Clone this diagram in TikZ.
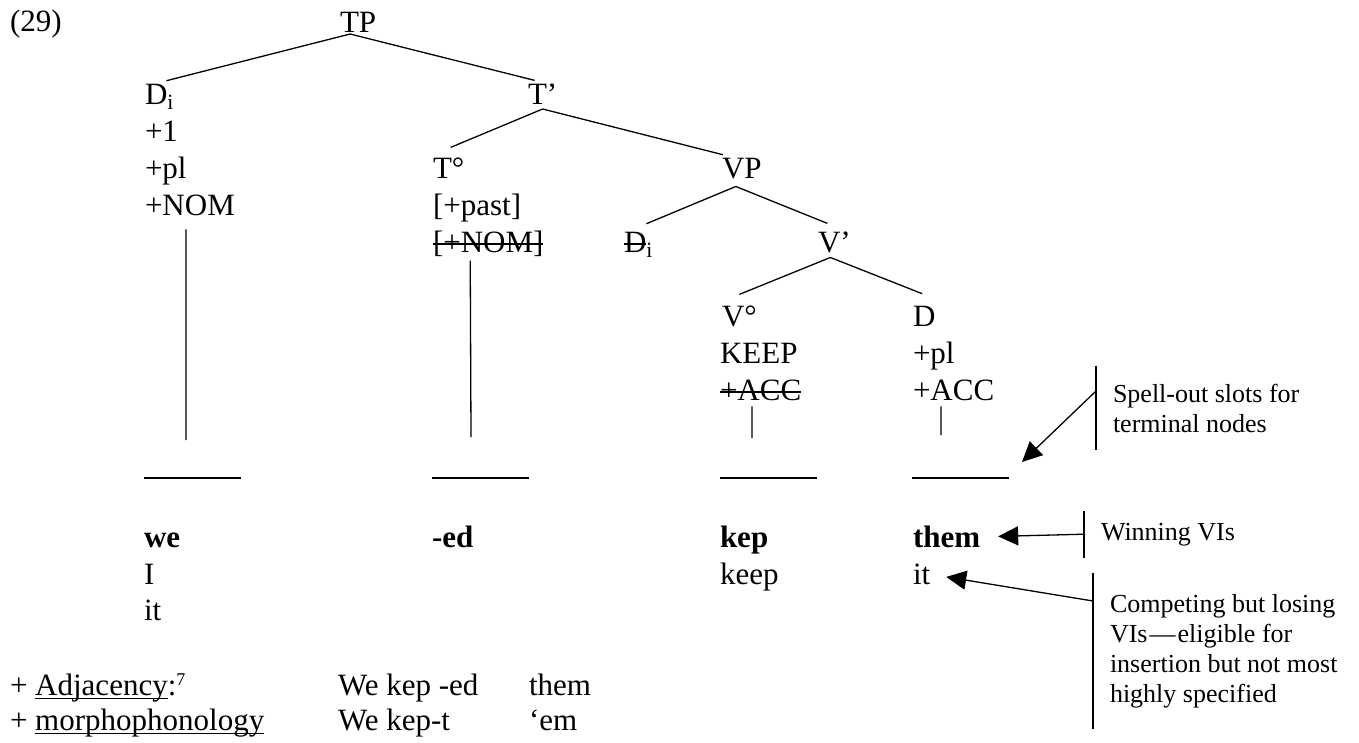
\documentclass[tikz,border=0pt]{standalone}
\usepackage{fontspec}
\setmainfont{Liberation Serif}
\usetikzlibrary{arrows.meta}
\newsavebox{\markbox}
\newcommand{\strk}[1]{\sbox{\markbox}{#1}\rlap{\usebox{\markbox}}\rule[7.5pt]{\wd\markbox}{1.3pt}}
\newcommand{\uln}[1]{\sbox{\markbox}{#1}\rlap{\usebox{\markbox}}\rule[-4pt]{\wd\markbox}{1.3pt}}
\begin{document}
\begin{tikzpicture}[x=1pt,y=-1pt,
    every node/.style={inner sep=0pt,outer sep=0pt,anchor=base west,font=\fontsize{31}{37}\selectfont},
    branch/.style={line width=1.3pt},
    slot/.style={line width=2.2pt},
    note/.style={font=\fontsize{26}{30}\selectfont,align=left,anchor=west,inner xsep=17pt,inner ysep=#1},
    pointer/.style={line width=1.3pt,-{Triangle[length=20pt,width=19pt]}}]
    \useasboundingbox (0,0) rectangle (1359,742);

    \node (ex) at (10,31) {(29)};
    \node (TP) at (340,32) {TP};
    \node (Di) at (145,104) {D\textsubscript{i}};
    \node (d1) at (145,141) {+1};
    \node (d2) at (145,178) {+pl};
    \node (dnom) at (145,215) {+NOM};
    \node (Tb) at (528,104) {T’};
    \node (To) at (433,178) {T°};
    \node (tpast) at (433,215) {[+past]};
    \node (tnom) at (433,252) {\strk{[+NOM]}};
    \node (VP) at (722,178) {VP};
    \node (Dv) at (624,252) {\strk{D}\textsubscript{i}};
    \node (Vb) at (818,252) {V’};
    \node (Vo) at (722,326) {V°};
    \node (vkeep) at (720,363) {KEEP};
    \node (vacc) at (720,400) {\strk{+ACC}};
    \node (Do) at (913,326) {D};
    \node (dpl) at (913,363) {+pl};
    \node (dacc) at (913,400) {+ACC};

    \draw[branch] ([xshift=-8pt,yshift=-2pt]TP.south) -- ([xshift=7pt,yshift=3pt]Di.north);
    \draw[branch] ([xshift=-8pt,yshift=-2pt]TP.south) -- ([xshift=-8pt,yshift=3pt]Tb.north);
    \draw[branch] ([yshift=-5pt]Tb.south) -- ([xshift=2pt,yshift=10pt]To.north);
    \draw[branch] ([yshift=-5pt]Tb.south) -- ([xshift=-19pt,yshift=3pt]VP.north);
    \draw[branch] ([xshift=-6pt,yshift=-8pt]VP.south) -- ([xshift=8pt,yshift=8pt]Dv.north);
    \draw[branch] ([xshift=-6pt,yshift=-8pt]VP.south) -- ([xshift=-7pt,yshift=8pt]Vb.north);
    \draw[branch] ([xshift=-4pt,yshift=-5pt]Vb.south) -- ([yshift=11pt]Vo.north);
    \draw[branch] ([xshift=-4pt,yshift=-5pt]Vb.south) -- ([xshift=-2pt,yshift=12pt]Do.north);

    \coordinate (s1) at (144,478);
    \coordinate (s2) at (432,478);
    \coordinate (s3) at (720,478);
    \coordinate (s4) at (912,478);
    \foreach \s in {s1,s2,s3,s4} \draw[slot] (\s) -- ++(97,0);

    \draw[branch] ([xshift=-4pt,yshift=-14pt]dnom.south) -- ([xshift=42pt,yshift=38pt]s1);
    \draw[branch] ([xshift=-18pt,yshift=-4.5pt]tnom.south) -- ([xshift=39pt,yshift=41pt]s2);
    \draw[branch] ([xshift=-8.6pt,yshift=-6pt]vacc.south) -- ([xshift=32pt,yshift=40pt]s3);
    \draw[branch] ([xshift=-12.6pt,yshift=-6pt]dacc.south) -- ([xshift=29pt,yshift=43pt]s4);

    \node (we) at (144,547) {\textbf{we}};
    \node (wI) at (144,584) {I};
    \node (wit) at (144,620) {it};
    \node (ed) at (432,547) {\textbf{-ed}};
    \node (kep) at (720,547) {\textbf{kep}};
    \node (keep) at (720,584) {keep};
    \node (them) at (913,547) {\textbf{them}};
    \node (oit) at (913,584) {it};

    \node[note=18pt] (spell) at (1096,408) {Spell-out slots for\\terminal nodes};
    \node[note=12pt,anchor=base west] (win) at (1084,540) {Winning VIs};
    \node[note=21pt] (comp) at (1093,651) {Competing but losing\\VIs\kern2pt—\kern2pt eligible for\\insertion but not most\\highly specified};
    \foreach \n in {spell,win,comp} \draw[branch] (\n.north west) -- (\n.south west);
    \draw[pointer] ([yshift=17pt]spell.west) -- ([xshift=110pt,yshift=16pt]s4);
    \draw[pointer] (win.west) -- ([xshift=18pt]them.east);
    \draw[pointer] ([yshift=50pt]comp.west) -- ([xshift=16pt,yshift=-3pt]oit.east);

    \node (adj) at (10,695) {+ \uln{Adjacency}:\textsuperscript{\fontsize{18}{20}\selectfont 7}};
    \node (mph) at (10,730) {+ \uln{morphophonology}};
    \node (adja) at (338,695) {We kep -ed};
    \node (adjb) at (529,695) {them};
    \node (mpha) at (338,730) {We kep-t};
    \node (mphb) at (529,730) {‘em};
\end{tikzpicture}
\end{document}
